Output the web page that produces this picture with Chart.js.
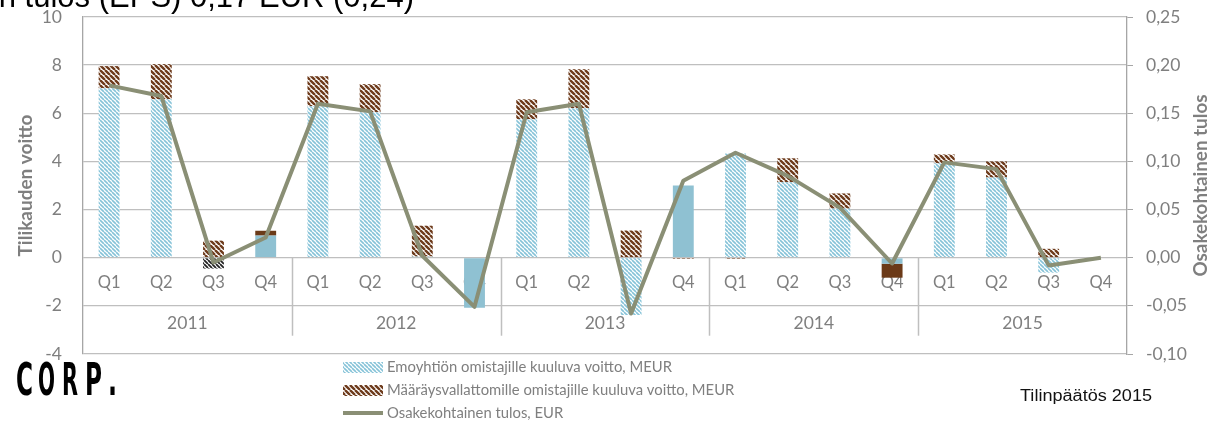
<!DOCTYPE html>
<html><head><meta charset="utf-8">
<script src="https://cdn.jsdelivr.net/npm/chart.js@4"></script>
<style>html,body{margin:0;padding:0;background:#fff;overflow:hidden}canvas{display:block}</style>
</head><body>
<canvas id="c" width="1212" height="422"></canvas>
<script>
// ---- data ----
const quarters = ['Q1', 'Q2', 'Q3', 'Q4'];
const years = ['2011', '2012', '2013', '2014', '2015'];
const parentProfit = [7.04, 6.58, -0.45, 0.92, 6.29, 6.04, 0.05, -2.08, 5.75, 6.21, -2.38, 3.0, 4.33, 3.13, 2.04, -0.25, 3.92, 3.33, -0.62, null];
const minorityProfit = [0.92, 1.46, 0.71, 0.2, 1.25, 1.17, 1.28, 0, 0.83, 1.62, 1.13, -0.05, -0.05, 1.0, 0.63, -0.58, 0.37, 0.67, 0.37, null];
const eps = [0.179, 0.168, -0.005, 0.021, 0.160, 0.152, 0.002, -0.051, 0.151, 0.160, -0.058, 0.080, 0.109, 0.085, 0.052, -0.006, 0.099, 0.092, -0.008, 0.000];
const seriesNames = ['Emoyhtiön omistajille kuuluva voitto, MEUR', 'Määräysvallattomille omistajille kuuluva voitto, MEUR', 'Osakekohtainen tulos, EUR'];
const leftTicks = [-4, -2, 0, 2, 4, 6, 8, 10];
const rightTicks = [-0.10, -0.05, 0.00, 0.05, 0.10, 0.15, 0.20, 0.25];
const titleText = 'Osakekohtainen tulos (EPS) 0,17 EUR (0,24)';
const leftAxisTitle = 'Tilikauden voitto';
const rightAxisTitle = 'Osakekohtainen tulos';
const logoText = 'CORP.';
const footerText = 'Tilinpäätös 2015';

const labels = years.flatMap(() => quarters.slice());

// ---- styles ----
const GRAY = '#7F7F7F';
const GRID = '#BFBFBF';
const AXIS = '#A6A6A6';
const LINE = '#8A8F75';
const SOLID_BLUE = '#8FC1D2';
const SOLID_BROWN = '#6B3A18';
const FONT = 'Lato';

const canvas = document.getElementById('c');
const ctx = canvas.getContext('2d');

function hatch(color, bg, period, lw) {
  const c = document.createElement('canvas');
  c.width = c.height = period;
  const x = c.getContext('2d');
  x.fillStyle = bg; x.fillRect(0, 0, period, period);
  x.strokeStyle = color; x.lineWidth = lw;
  x.beginPath();
  for (let k = -1; k <= 1; k++) { x.moveTo(k * period, 0); x.lineTo(k * period + period, period); }
  x.stroke();
  return ctx.createPattern(c, 'repeat');
}
const blueHatch = hatch('#86C3D8', '#FFFFFF', 4, 1.6);
const brownHatch = hatch('#6E3B1C', '#FFFFFF', 5, 2.4);
const darkHatch = hatch('#222222', '#FFFFFF', 4, 1.8);
const darkHatchIdx = [2];

const parentColors = parentProfit.map((v, i) => i % 4 === 3 ? SOLID_BLUE : (darkHatchIdx.includes(i) ? darkHatch : blueHatch));
const minorityColors = minorityProfit.map((v, i) => (i % 4 === 3 && i !== 11) ? SOLID_BROWN : brownHatch);

function fitFont(c, text, weight, family, targetW) {
  c.font = `${weight} 20px ${family}`;
  const size = 20 * targetW / c.measureText(text).width;
  c.font = `${weight} ${size.toFixed(2)}px ${family}`;
}

const extras = {
  id: 'extras',
  beforeDatasetsDraw(chart) {
    const c = chart.ctx, xs = chart.scales.x, ys = chart.scales.y;
    const y0 = ys.getPixelForValue(0);
    c.save();
    c.strokeStyle = GRID; c.lineWidth = 1.5;
    for (let k = 1; k < years.length; k++) {
      const x = Math.round((xs.getPixelForValue(4 * k - 1) + xs.getPixelForValue(4 * k)) / 2) + 0.5;
      c.beginPath(); c.moveTo(x, y0); c.lineTo(x, y0 + 78); c.stroke();
    }
    c.fillStyle = GRAY; c.font = `17.5px ${FONT}`; c.textAlign = 'center'; c.textBaseline = 'middle';
    years.forEach((yr, k) => {
      const x = (xs.getPixelForValue(4 * k) + xs.getPixelForValue(4 * k + 3)) / 2;
      c.fillText(yr, x, y0 + 66);
    });
    c.restore();
  },
  afterDraw(chart) {
    const c = chart.ctx, a = chart.chartArea;
    const midY = (a.top + a.bottom) / 2;
    c.save();
    // title (cropped at top)
    c.fillStyle = '#000'; c.font = '31px "Liberation Sans", Arial, sans-serif';
    c.textAlign = 'right'; c.textBaseline = 'alphabetic';
    c.fillText(titleText, 414, 7);
    // axis titles
    c.fillStyle = GRAY; c.textAlign = 'center'; c.textBaseline = 'middle';
    fitFont(c, leftAxisTitle, 'bold', FONT, 142);
    c.save(); c.translate(26, midY); c.rotate(-Math.PI / 2); c.fillText(leftAxisTitle, 0, 0); c.restore();
    fitFont(c, rightAxisTitle, 'bold', FONT, 182);
    c.save(); c.translate(1201, midY); c.rotate(-Math.PI / 2); c.fillText(rightAxisTitle, 0, 0); c.restore();
    // legend
    const lx = 343, lw = 40, rows = [367, 390, 413];
    c.fillStyle = blueHatch; c.fillRect(lx, rows[0] - 5, lw, 11);
    c.fillStyle = brownHatch; c.fillRect(lx, rows[1] - 5, lw, 11);
    c.strokeStyle = LINE; c.lineWidth = 4; c.beginPath(); c.moveTo(lx, rows[2]); c.lineTo(lx + lw, rows[2]); c.stroke();
    c.fillStyle = GRAY; fitFont(c, seriesNames[0], 'normal', FONT, 285); c.textAlign = 'left'; c.textBaseline = 'middle';
    seriesNames.forEach((t, i) => c.fillText(t, 387, rows[i]));
    // logo
    c.fillStyle = '#000'; c.font = 'bold 44px "DejaVu Sans Condensed", "DejaVu Sans", sans-serif';
    c.textBaseline = 'alphabetic'; c.textAlign = 'left';
    const letterX = [16, 38, 62, 85, 108];
    const letterW = [17, 17, 16, 17, 9];
    [...logoText].forEach((ch, i) => {
      const w = c.measureText(ch).width;
      c.save(); c.translate(letterX[i], 395); c.scale(letterW[i] / w, 1); c.fillText(ch, 0, 0); c.restore();
    });
    // footer
    c.font = '16px "Liberation Sans", Arial, sans-serif';
    c.fillStyle = '#111'; c.textBaseline = 'middle';
    const fw = c.measureText(footerText).width;
    c.save(); c.translate(1020, 397); c.scale(132 / fw, 1); c.fillText(footerText, 0, 0); c.restore();
    c.restore();
  }
};

function noVPad(s) { s.paddingTop = 0; s.paddingBottom = 0; }

new Chart(ctx, {
  type: 'bar',
  data: {
    labels,
    datasets: [
      { type: 'line', label: seriesNames[2], data: eps, yAxisID: 'y1', borderColor: LINE, borderWidth: 4, pointRadius: 0, tension: 0, order: 0, borderJoinStyle: 'round' },
      { label: seriesNames[0], data: parentProfit, backgroundColor: parentColors, stack: 's', yAxisID: 'y', order: 1 },
      { label: seriesNames[1], data: minorityProfit, backgroundColor: minorityColors, stack: 's', yAxisID: 'y', order: 1 }
    ]
  },
  options: {
    responsive: false, animation: false, events: [],
    layout: { padding: { top: 17, bottom: 68, left: 0, right: 0 } },
    plugins: { legend: { display: false }, tooltip: { enabled: false }, title: { display: false } },
    datasets: { bar: { categoryPercentage: 1, barPercentage: 0.4 } },
    scales: {
      x: {
        type: 'category', position: { y: 0 }, stacked: true,
        grid: { display: false, drawTicks: false }, border: { display: false },
        ticks: { color: GRAY, font: { family: FONT, size: 16.5 }, padding: 15, maxRotation: 0, autoSkip: false }
      },
      y: {
        position: 'left', stacked: true, min: leftTicks[0], max: leftTicks[leftTicks.length - 1],
        afterBuildTicks(s) { s.ticks = leftTicks.map(v => ({ value: v })); },
        ticks: { color: GRAY, font: { family: FONT, size: 17.5 }, padding: 21 },
        grid: { color: GRID, drawTicks: false, lineWidth: 1.3 }, border: { color: AXIS, width: 1.3 },
        afterFit(s) { s.width = 83; noVPad(s); }
      },
      y1: {
        position: 'right', min: rightTicks[0], max: rightTicks[rightTicks.length - 1],
        afterBuildTicks(s) { s.ticks = rightTicks.map(v => ({ value: v })); },
        ticks: { color: GRAY, font: { family: FONT, size: 17.5 }, padding: 13, callback: v => v.toFixed(2).replace('.', ',') },
        grid: { drawOnChartArea: false, tickLength: 6, color: AXIS, tickColor: AXIS }, border: { color: AXIS, width: 1.3 },
        afterFit(s) { s.width = 85; noVPad(s); }
      }
    }
  },
  plugins: [extras]
});
</script>
</body></html>
